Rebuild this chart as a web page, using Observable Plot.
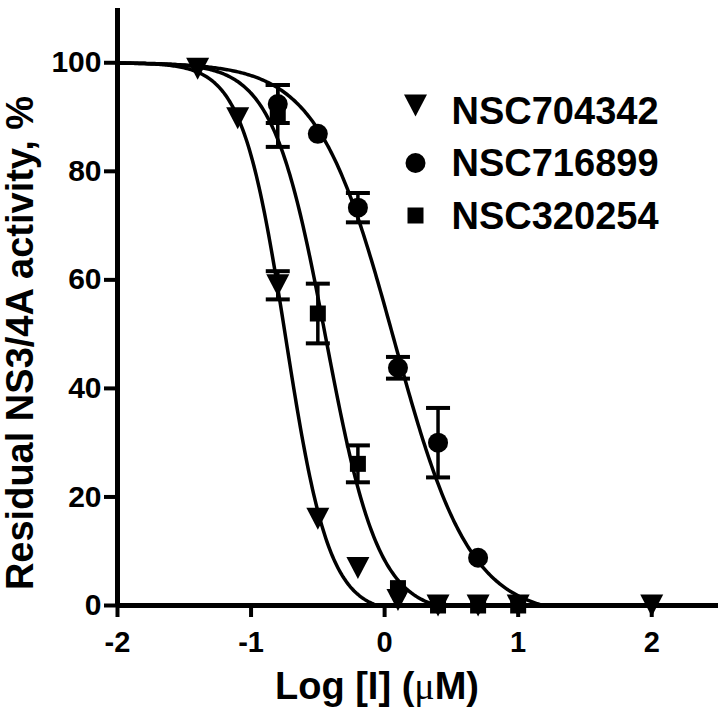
<!DOCTYPE html>
<html>
<head>
<meta charset="utf-8">
<script src="https://cdn.jsdelivr.net/npm/d3@7"></script>
<script src="https://cdn.jsdelivr.net/npm/@observablehq/plot@0.6"></script>
<style>
  html, body { margin: 0; padding: 0; background: #fff; }
  #chart { width: 724px; height: 713px; }
</style>
</head>
<body>
<div id="chart"></div>
<script>
// ---- data ----
const xTicks = [-2, -1, 0, 1, 2];
const yTicks = [0, 20, 40, 60, 80, 100];
const seriesNames = ["NSC704342", "NSC716899", "NSC320254"];

const logConcA = [-1.4, -1.1, -0.8, -0.5, -0.2, 0.1, 0.4, 0.7, 1.0, 2.0];
const activityA = [98.9, 89.8, 59.0, 16.0, 6.9, 1.0, 0, 0, 0, 0];
const sdA = [0, 0, 2.6, 0, 0, 0, 0, 0, 0, 0];

const logConcB = [-0.8, -0.5, -0.2, 0.1, 0.4, 0.7];
const activityB = [92.4, 86.9, 73.3, 43.8, 30.0, 8.8];
const sdB = [3.5, 0, 2.7, 2.0, 6.4, 0];

const logConcC = [-0.8, -0.5, -0.2, 0.1, 0.4, 0.7, 1.0];
const activityC = [90.2, 53.8, 26.1, 3.2, 0, 0, 0];
const sdC = [5.7, 5.5, 3.4, 0, 0, 0, 0];

// fitted dose-response curves (log IC50, Hill slope, bottom)
const fitLogIC50 = [-0.74, 0.07, -0.44];
const fitHill = [2.67, 1.52, 2.2];
const fitBottom = [-1.5, -2, -1.5];
const fitTop = 100;

// ---- build tables ----
function table(name, xs, ys, sds) {
  return xs.map((x, i) => ({series: name, x, y: ys[i], sd: sds[i]}));
}
const points = [
  table(seriesNames[0], logConcA, activityA, sdA),
  table(seriesNames[1], logConcB, activityB, sdB),
  table(seriesNames[2], logConcC, activityC, sdC)
];
const allPoints = points.flat();
const errPoints = allPoints.filter(d => d.sd > 0);
const caps = errPoints.flatMap(d => [{x: d.x, y: d.y + d.sd}, {x: d.x, y: d.y - d.sd}]);

const curveX = d3.range(-2, 2.5001, 0.01);
const curves = seriesNames.flatMap((name, i) =>
  curveX.map(x => ({
    series: name, x,
    y: fitBottom[i] + (fitTop - fitBottom[i]) / (1 + Math.pow(10, (x - fitLogIC50[i]) * fitHill[i]))
  }))
);

// ---- symbols ----
const triDown = {draw(ctx) { const w = 23, h = 22; ctx.moveTo(-w/2, -h/2); ctx.lineTo(w/2, -h/2); ctx.lineTo(0, h/2); ctx.closePath(); }};
const circ = {draw(ctx) { ctx.moveTo(10, 0); ctx.arc(0, 0, 10, 0, 2 * Math.PI); ctx.closePath(); }};
const sq = {draw(ctx) { const s = 8; ctx.moveTo(-s, -s); ctx.lineTo(s, -s); ctx.lineTo(s, s); ctx.lineTo(-s, s); ctx.closePath(); }};
const capSym = {draw(ctx) { ctx.moveTo(-12, 0); ctx.lineTo(12, 0); }};
const symbols = [triDown, circ, sq];

const font = "'Liberation Sans', Arial, Helvetica, sans-serif";

const legendMarks = seriesNames.flatMap((name, i) => {
  const textDy = 103 + 52.5 * i;
  const symDy = textDy + [-6, -1, -1][i];
  return [
    Plot.dot([name], {frameAnchor: "top-left", dx: 298, dy: symDy, symbol: symbols[i], fill: "black", stroke: "none"}),
    Plot.text([name], {frameAnchor: "top-left", dx: 334, dy: textDy, textAnchor: "start", lineAnchor: "middle", fontSize: 38, fontWeight: "bold", fill: "black"})
  ];
});

const chart = Plot.plot({
  width: 724,
  height: 713,
  marginLeft: 117,
  marginRight: 6,
  marginTop: 8,
  marginBottom: 108,
  x: {domain: [-2, 2.5]},
  y: {domain: [0, 110]},
  style: {fontFamily: font, fontWeight: "bold", fontSize: "30px", background: "white", color: "black", overflow: "visible"},
  marks: [
    Plot.axisY({ticks: yTicks, tickSize: 13, tickPadding: 3, fontSize: 30, fontWeight: "bold", strokeWidth: 4, tickFormat: d => String(d), label: null}),
    Plot.axisX({ticks: xTicks, tickSize: 12, tickPadding: 14, fontSize: 29, fontWeight: "bold", strokeWidth: 4, tickFormat: d => String(d), label: null}),
    Plot.ruleX([-2], {strokeWidth: 5, stroke: "black"}),
    Plot.line(curves, {x: "x", y: "y", z: "series", stroke: "black", strokeWidth: 3.5, clip: true}),
    Plot.ruleY([0], {strokeWidth: 5, stroke: "black"}),
    Plot.ruleX(errPoints, {x: "x", y1: d => d.y - d.sd, y2: d => d.y + d.sd, stroke: "black", strokeWidth: 3.5}),
    Plot.dot(caps, {x: "x", y: "y", symbol: capSym, fill: "none", stroke: "black", strokeWidth: 4}),
    ...points.map((pts, i) => Plot.dot(pts, {x: "x", y: "y", symbol: symbols[i], fill: "black", stroke: "none"})),
    ...legendMarks,
    Plot.text(["Residual NS3/4A activity, %"], {frameAnchor: "left", rotate: -90, dx: -97, dy: 36, fontSize: 38, fontWeight: "bold", textAnchor: "middle", lineAnchor: "middle", fill: "black"}),
    Plot.text(["Log [I] (μM)"], {frameAnchor: "bottom", dx: -41, dy: 81, fontSize: 38, fontWeight: "bold", textAnchor: "middle", lineAnchor: "middle", fill: "black"})
  ]
});

document.getElementById("chart").appendChild(chart);

// enforce tick-label sizes
d3.select(chart).selectAll('g[aria-label="y-axis tick label"]').attr("font-size", 30).attr("font-weight", "bold")
  .selectAll("text").style("font-size", "30px");
d3.select(chart).selectAll('g[aria-label="x-axis tick label"]').attr("font-size", 29).attr("font-weight", "bold")
  .selectAll("text").style("font-size", "29px");

// render the Greek mu in a regular serif face, as in the original label
d3.select(chart).selectAll("text").filter(function() { return this.textContent === "Log [I] (μM)"; }).each(function() {
  const t = d3.select(this);
  t.text(null);
  t.append("tspan").text("Log [I] (");
  t.append("tspan").attr("font-family", "'Liberation Serif', 'DejaVu Serif', serif").attr("font-weight", "normal").text("μ");
  t.append("tspan").text("M)");
});
</script>
</body>
</html>
